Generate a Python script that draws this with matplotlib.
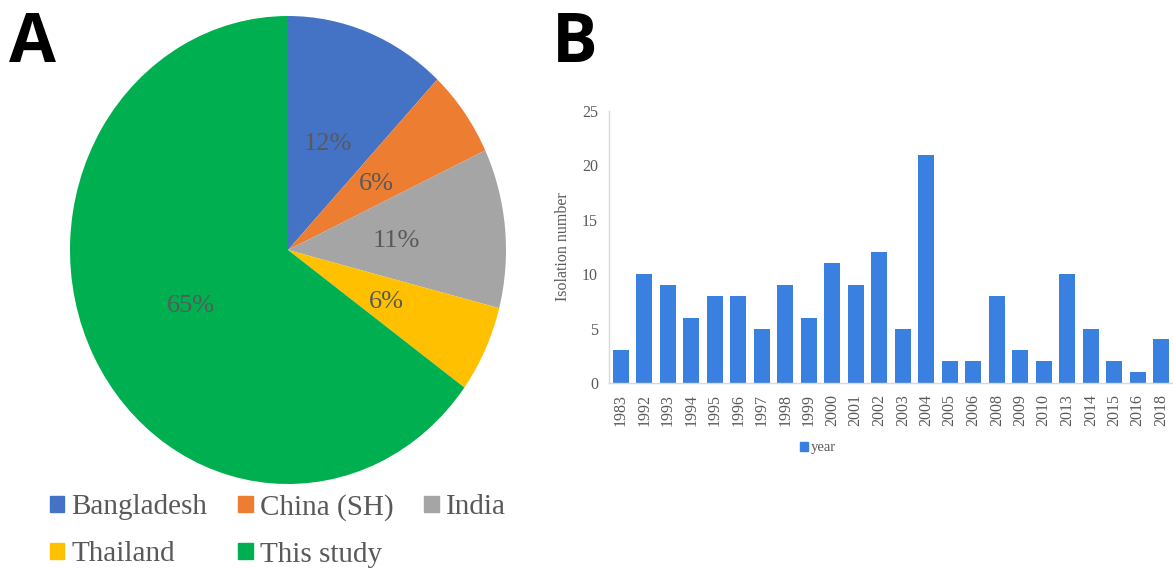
import matplotlib
matplotlib.use("Agg")
import matplotlib.pyplot as plt
from matplotlib.patches import Patch

# panel A data
countries = ["Bangladesh", "China (SH)", "India", "Thailand", "This study"]
shares = [12, 6, 11, 6, 65]
pie_colors = ["#4472C4", "#ED7D31", "#A5A5A5", "#FFC000", "#00B050"]

# panel B data
years = ["1983", "1992", "1993", "1994", "1995", "1996", "1997", "1998", "1999",
         "2000", "2001", "2002", "2003", "2004", "2005", "2006", "2008", "2009",
         "2010", "2013", "2014", "2015", "2016", "2018"]
isolates = [3, 10, 9, 6, 8, 8, 5, 9, 6, 11, 9, 12, 5, 21, 2, 2, 8, 3, 2, 10, 5, 2, 1, 4]
bar_color = "#3A80E0"

serif = "Liberation Serif"
txt_gray = "#595959"
W, H = 1173, 571

fig = plt.figure(figsize=(W / 100, H / 100), dpi=100)

# ---- A: pie ----
cx, cy, rx, ry = 288, 250, 218, 234
ax1 = fig.add_axes([(cx - rx) / W, 1 - (cy + ry) / H, 2 * rx / W, 2 * ry / H])
wedges, _, autotexts = ax1.pie(shares, colors=pie_colors, startangle=90, counterclock=False,
                               autopct=lambda p: f"{p:.0f}%", pctdistance=0.5,
                               textprops=dict(family=serif, fontsize=19, color=txt_gray))
for t in autotexts:
    t.set_va("center_baseline")
ax1.set_aspect("auto")
ax1.set_xlim(-1, 1)
ax1.set_ylim(-1, 1)

# legend in row order (matplotlib fills columns first)
order = [0, 3, 1, 4, 2]
handles = [Patch(color=pie_colors[i], label=countries[i]) for i in order]
fig.legend(handles=handles, loc="upper left", bbox_to_anchor=(35 / W, 1 - 479 / H),
           ncol=3, frameon=False, borderpad=0, prop=dict(family=serif, size=21),
           labelcolor=txt_gray, handlelength=0.5, handleheight=0.5,
           handletextpad=0.25, columnspacing=1.05, labelspacing=0.72)

# ---- B: bars ----
ax2 = fig.add_axes([609 / W, 1 - 383 / H, (W - 609) / W, (383 - 111) / H])
x = range(len(years))
ax2.bar(x, isolates, width=0.68, color=bar_color, label="year")
ax2.set_xlim(-0.5, len(years) - 0.5)
ax2.set_ylim(0, 25)
ax2.set_yticks([0, 5, 10, 15, 20, 25])
ax2.set_xticks(list(x))
ax2.set_xticklabels(years, rotation=90)
for s in ["top", "right"]:
    ax2.spines[s].set_visible(False)
for s in ["left", "bottom"]:
    ax2.spines[s].set_color("#D9D9D9")
    ax2.spines[s].set_linewidth(1.0)
ax2.tick_params(length=0, labelsize=11.5, labelcolor=txt_gray, pad=8)
for lab in ax2.get_xticklabels() + ax2.get_yticklabels():
    lab.set_family(serif)
ax2.set_ylabel("Isolation number", family=serif, fontsize=11.5, color=txt_gray, labelpad=8)
fig.legend(handles=[Patch(color=bar_color, label="year")], loc="center left",
           bbox_to_anchor=(793 / W, 1 - 448 / H), frameon=False, borderpad=0,
           prop=dict(family=serif, size=10.5), labelcolor=txt_gray,
           handlelength=0.55, handleheight=0.55, handletextpad=0.2)

# panel letters
fig.text(9 / W, 1 - 62 / H, "A", family="Open Sans", weight="bold", fontsize=49, va="baseline")
fig.text(552 / W, 1 - 62 / H, "B", family="Open Sans", weight="bold", fontsize=49, va="baseline")

fig.savefig("out.png", dpi=100)
